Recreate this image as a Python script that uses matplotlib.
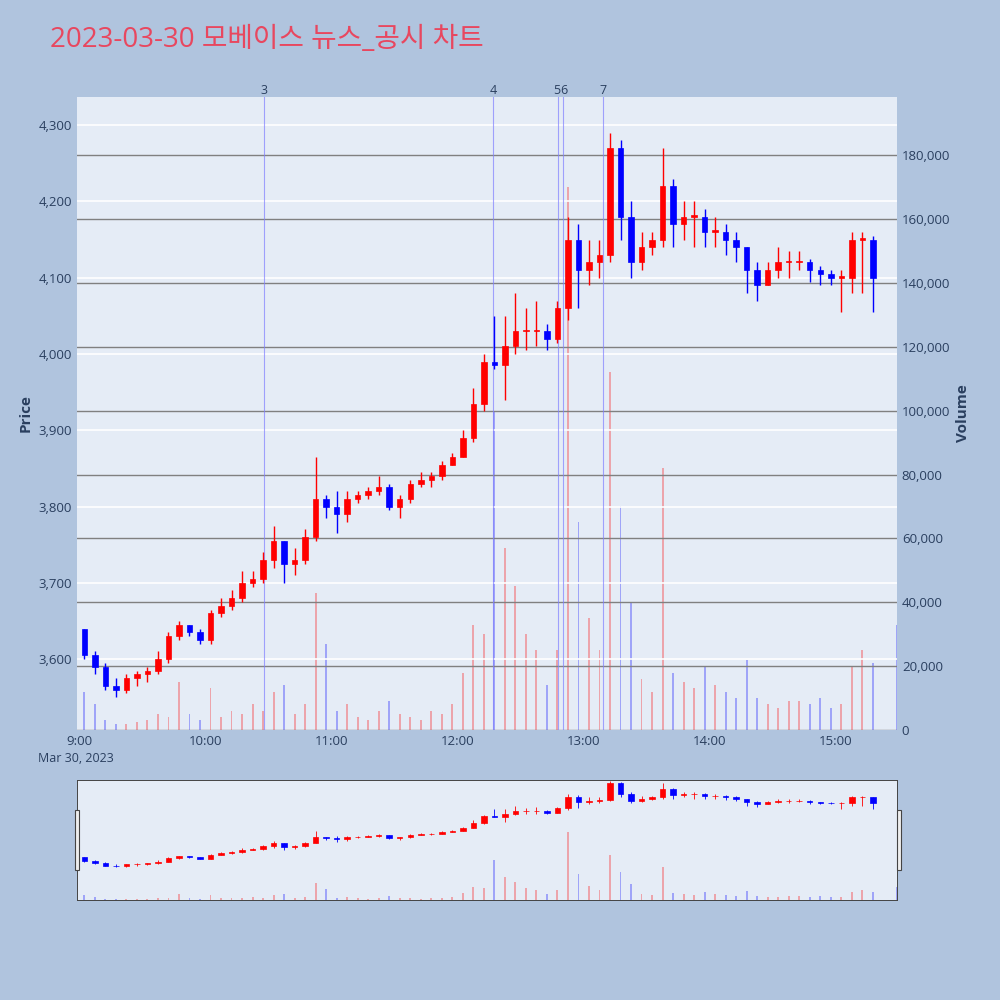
import numpy as np
import matplotlib
matplotlib.use("Agg")
import matplotlib.pyplot as plt
from matplotlib.patches import Rectangle
from matplotlib.ticker import FuncFormatter

plt.rcParams['font.family'] = ['Open Sans', 'Noto Sans CJK KR', 'DejaVu Sans']

BG, PLOT = "#B0C4DE", "#E5ECF6"
UP, DOWN = "#FF0000", "#0000FF"

# 5-minute bars, minutes after 09:00
minutes = list(range(0, 380, 5))
opens = [3640, 3605, 3590, 3565, 3560, 3575, 3580, 3585, 3600, 3630, 3645, 3635, 3625, 3660, 3670, 3680,
         3700, 3705, 3730, 3755, 3725, 3730, 3760, 3810, 3800, 3790, 3810, 3815, 3820, 3825, 3800, 3810,
         3830, 3835, 3840, 3855, 3865, 3890, 3935, 3990, 3985, 4010, 4030, 4030, 4030, 4020, 4060, 4150,
         4110, 4120, 4130, 4270, 4180, 4120, 4140, 4150, 4220, 4170, 4180, 4180, 4160, 4160, 4150, 4140,
         4110, 4090, 4110, 4120, 4120, 4120, 4110, 4105, 4100, 4100, 4150, 4150]
closes = [3605, 3590, 3565, 3560, 3575, 3580, 3585, 3600, 3630, 3645, 3635, 3625, 3660, 3670, 3680, 3700,
          3705, 3730, 3755, 3725, 3730, 3760, 3810, 3800, 3790, 3810, 3815, 3820, 3825, 3800, 3810, 3830,
          3835, 3840, 3855, 3865, 3890, 3935, 3990, 3985, 4010, 4030, 4030, 4030, 4020, 4060, 4150, 4110,
          4120, 4130, 4270, 4180, 4120, 4140, 4150, 4220, 4170, 4180, 4180, 4160, 4160, 4150, 4140, 4110,
          4090, 4110, 4120, 4120, 4120, 4110, 4105, 4100, 4100, 4150, 4150, 4100]
highs = [3640, 3610, 3595, 3575, 3580, 3585, 3590, 3610, 3635, 3650, 3645, 3640, 3665, 3680, 3690, 3715,
         3715, 3740, 3775, 3755, 3745, 3770, 3865, 3815, 3820, 3820, 3820, 3825, 3840, 3830, 3815, 3835,
         3845, 3845, 3860, 3870, 3900, 3955, 4000, 4050, 4050, 4080, 4060, 4070, 4040, 4070, 4180, 4170,
         4150, 4150, 4290, 4280, 4200, 4160, 4160, 4270, 4230, 4200, 4200, 4190, 4180, 4170, 4160, 4140,
         4120, 4120, 4140, 4135, 4135, 4125, 4115, 4110, 4110, 4160, 4160, 4155]
lows = [3600, 3580, 3560, 3550, 3555, 3565, 3570, 3580, 3595, 3625, 3630, 3620, 3620, 3655, 3665, 3675,
        3695, 3700, 3720, 3700, 3710, 3725, 3755, 3785, 3765, 3780, 3805, 3810, 3815, 3795, 3785, 3805,
        3825, 3825, 3835, 3855, 3865, 3885, 3925, 3980, 3940, 4000, 4005, 4010, 4005, 4015, 4045, 4060,
        4090, 4100, 4120, 4150, 4100, 4110, 4130, 4140, 4140, 4150, 4140, 4140, 4140, 4130, 4120, 4080,
        4070, 4090, 4100, 4100, 4110, 4095, 4090, 4090, 4055, 4080, 4080, 4055]
volumes = [12000, 8000, 3000, 2000, 2000, 2500, 3000, 5000, 4000, 15000, 5000, 3000, 13000, 4000, 6000, 5000,
           8000, 6000, 12000, 14000, 5000, 8000, 43000, 27000, 6000, 8000, 4000, 3000, 6000, 9000, 5000, 4000,
           3000, 6000, 5000, 8000, 18000, 33000, 30000, 100000, 57000, 45000, 30000, 25000, 14000, 25000, 170000, 65000,
           35000, 25000, 112000, 70000, 40000, 16000, 12000, 82000, 18000, 15000, 13000, 20000, 14000, 12000, 10000, 22000,
           10000, 8000, 7000, 9000, 9000, 8000, 10000, 7000, 8000, 20000, 25000, 21000]
news_min = [88, 197, 228, 230, 249]
news_lbl = ["3", "4", "5", "6", "7"]
label_shift = [0, 0, -0.8, 0.8, 0]
vol_last_min, vol_last = 389, 33000


def draw(ax, axv, thin=False):
    for m, o, c, h, l, v in zip(minutes, opens, closes, highs, lows, volumes):
        col = UP if c >= o else DOWN
        x = m + 2.5
        ax.vlines(x, l, h, color=col, lw=1.0 if not thin else 0.6, zorder=3)
        ax.add_patch(Rectangle((m + 1.2, min(o, c)), 2.6, max(abs(c - o), 2),
                               facecolor=col, edgecolor=col, lw=0.5, zorder=3))
        axv.bar(x, v, width=0.9, color=col, alpha=0.3, zorder=1)
    axv.bar(vol_last_min, vol_last, width=0.9, color=DOWN, alpha=0.3)


fig = plt.figure(figsize=(10, 10), dpi=100, facecolor=BG)
fig.text(0.05, 0.96, "2023-03-30 모베이스 뉴스_공시 차트", fontsize=20, color="#E8475F", va="center")

axv = fig.add_axes([0.077, 0.27, 0.82, 0.633])
axv.set_facecolor(PLOT)
ax = axv.twinx()
ax.patch.set_visible(False)
ax.yaxis.tick_left(); ax.yaxis.set_label_position("left")
axv.yaxis.tick_right(); axv.yaxis.set_label_position("right")

draw(ax, axv)
ax.set_ylim(3507, 4337)
axv.set_ylim(0, 198200)
ax.set_xlim(-1, 389)
ax.set_yticks(range(3600, 4301, 100))
ax.yaxis.set_major_formatter(FuncFormatter(lambda v, p: f"{int(v):,}"))
axv.set_yticks(range(0, 180001, 20000))
axv.yaxis.set_major_formatter(FuncFormatter(lambda v, p: f"{int(v):,}"))
ax.grid(axis="y", color="white", lw=1.2, zorder=0)
axv.grid(axis="y", color="#808080", lw=1.0)
ax.set_axisbelow(True)
ticks = list(range(0, 361, 60))
axv.set_xticks(ticks)
axv.set_xticklabels([f"{9 + t // 60}:00" for t in ticks])
for a in (ax, axv):
    a.tick_params(length=0, labelsize=9.5, colors="#2A3F5F")
    for s in a.spines.values():
        s.set_visible(False)
ax.set_ylabel("Price", fontsize=11, color="#2A3F5F", fontweight="bold")
axv.set_ylabel("Volume", fontsize=11, color="#2A3F5F", fontweight="bold")
fig.text(0.038, 0.238, "Mar 30, 2023", fontsize=9, color="#2A3F5F")
for m, lb, dx in zip(news_min, news_lbl, label_shift):
    ax.axvline(m, color="#8080FF", lw=0.8, alpha=0.7, zorder=2)
    ax.text(m + dx, 4337, lb, ha="center", va="bottom", fontsize=9, color="#2A3F5F")

# range slider
sv = fig.add_axes([0.077, 0.1, 0.82, 0.12])
sv.set_facecolor(PLOT)
sp = sv.twinx()
sp.patch.set_visible(False)
draw(sp, sv, thin=True)
sp.set_ylim(3270, 4300)
sv.set_ylim(0, 300000)
sp.set_xlim(-1, 389)
for a in (sv, sp):
    a.set_xticks([]); a.set_yticks([])
    for s in a.spines.values():
        s.set_color("#444444"); s.set_linewidth(0.6)
for xf in (0.0745, 0.897):
    fig.add_artist(Rectangle((xf, 0.13), 0.004, 0.06, transform=fig.transFigure,
                             facecolor="#EEEEEE", edgecolor="#444444", lw=0.8))

fig.savefig("out.png", facecolor=BG)
